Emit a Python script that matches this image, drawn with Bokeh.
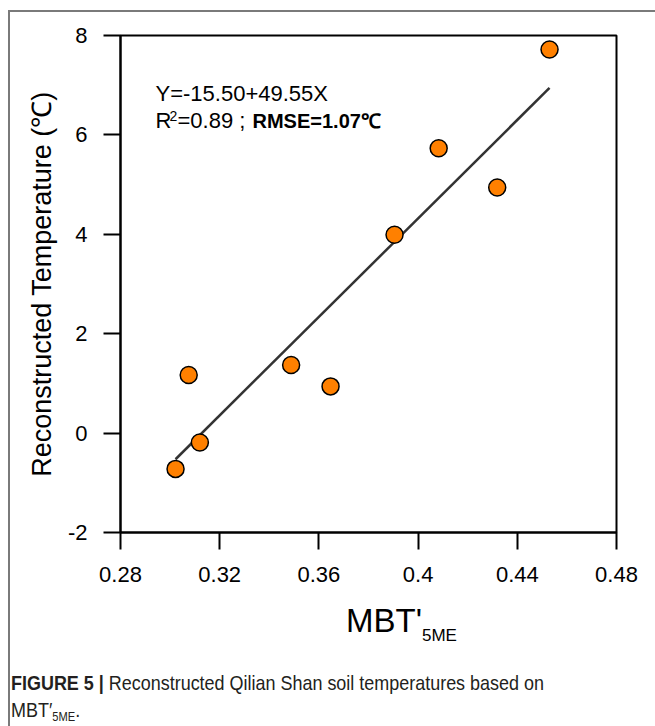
from bokeh.plotting import figure
from bokeh.models import Label, FixedTicker, Range1d, ColumnDataSource, Div
from bokeh.layouts import column
from bokeh.embed import file_html
from bokeh.resources import INLINE

# ---- data ----
mbt_5me = [0.3022, 0.3075, 0.3120, 0.3488, 0.3647, 0.3905, 0.4083, 0.4319, 0.4530]
recon_temp = [-0.72, 1.17, -0.19, 1.37, 0.94, 3.99, 5.73, 4.94, 7.72]
fit_intercept = -15.50
fit_slope = 49.55
x_ticks = [0.28, 0.32, 0.36, 0.40, 0.44, 0.48]
x_tick_labels = ["0.28", "0.32", "0.36", "0.4", "0.44", "0.48"]
y_ticks = [-2, 0, 2, 4, 6, 8]
y_tick_labels = ["-2", "0", "2", "4", "6", "8"]

FONT = "Liberation Sans"
W = 645

p = figure(width=W, height=580, x_range=Range1d(0.28, 0.48), y_range=Range1d(-2, 8),
           output_backend="svg", toolbar_location=None,
           min_border_left=110, min_border_right=39, min_border_top=23, min_border_bottom=60)

p.xgrid.visible = False
p.ygrid.visible = False
p.outline_line_color = "black"
p.outline_line_width = 2
p.background_fill_color = "white"
p.border_fill_color = "white"

for ax in (p.xaxis[0], p.yaxis[0]):
    ax.axis_line_width = 2
    ax.axis_line_color = "black"
    ax.major_tick_line_width = 2
    ax.major_tick_line_color = "black"
    ax.major_tick_out = 17
    ax.major_tick_in = 0
    ax.minor_tick_out = 0
    ax.minor_tick_in = 0
    ax.major_label_text_font = FONT
    ax.major_label_text_font_size = "22px"
    ax.major_label_text_color = "black"

p.xaxis.ticker = FixedTicker(ticks=x_ticks)
p.xaxis.major_label_overrides = {t: l for t, l in zip(x_ticks, x_tick_labels)}
p.xaxis.major_label_standoff = 17
p.yaxis.ticker = FixedTicker(ticks=y_ticks)
p.yaxis.major_label_overrides = {t: l for t, l in zip(y_ticks, y_tick_labels)}
p.yaxis.major_label_standoff = 16

p.yaxis.axis_label = "Reconstructed Temperature (℃)"
p.yaxis.axis_label_text_font = FONT
p.yaxis.axis_label_text_font_size = "27px"
p.yaxis.axis_label_text_font_style = "normal"
p.yaxis.axis_label_text_color = "black"
p.yaxis.axis_label_standoff = 8

# regression line
xfit = [min(mbt_5me), max(mbt_5me)]
yfit = [fit_intercept + fit_slope * x for x in xfit]
p.line(xfit, yfit, line_color="#333333", line_width=2.5)

src = ColumnDataSource(dict(x=mbt_5me, y=recon_temp))
p.scatter("x", "y", source=src, size=17, fill_color="#FF8000", line_color="black", line_width=1.5)

def lab(fig, text, x, y, size, bold=False, color="black"):
    fig.add_layout(Label(x=x, y=y, x_units="screen", y_units="screen", text=text,
                         text_font=FONT, text_font_size=size,
                         text_font_style="bold" if bold else "normal",
                         text_color=color, text_baseline="alphabetic", text_align="left"))

# equation annotation (offsets from the frame's lower-left corner)
lab(p, "Y=-15.50+49.55X", 35, 439, "22px")
lab(p, "R", 35, 412, "22px")
lab(p, "2", 49, 417, "14px")
lab(p, "=0.89 ;", 57, 412, "22px")
lab(p, "RMSE=1.07℃", 132, 412, "20px", bold=True)

# lower panel: x-axis title and caption (HTML text)
H2 = 134

def span(html, left, baseline, size, color="black", sx=1.0):
    top = baseline - 0.8465 * size
    return (f'<div style="position:absolute;left:{left}px;top:{top:.1f}px;'
            f"font-family:'Liberation Sans';font-size:{size}px;line-height:{size}px;"
            f'color:{color};white-space:nowrap;transform:scaleX({sx});transform-origin:0 0;">{html}</div>')

cap = "#231f20"
sub_x = '<span style="font-size:17px;position:relative;top:9px;">5ME</span>'
sub_c = '<span style="font-size:13px;position:relative;top:4px;">5ME</span>'
html = (
    f'<div style="position:relative;width:{W}px;height:{H2}px;overflow:hidden;background:white;">'
    + span("MBT'" + sub_x, 336, 40, 33)
    + span("<b>FIGURE 5 |</b> Reconstructed Qilian Shan soil temperatures based on", 1, 98, 21, cap, 0.855)
    + span("MBT′" + sub_c + ".", 1, 125, 21, cap, 0.855)
    + '</div>'
)
d = Div(text=html, width=W, height=H2, margin=0)

layout = column(p, d, spacing=0)
layout.styles = {"margin-left": "8px", "margin-top": "10px",
                 "border-left": "2px solid #7a7a7a", "border-top": "2px solid #7a7a7a"}

open("out.html", "w").write(file_html(layout, INLINE))
